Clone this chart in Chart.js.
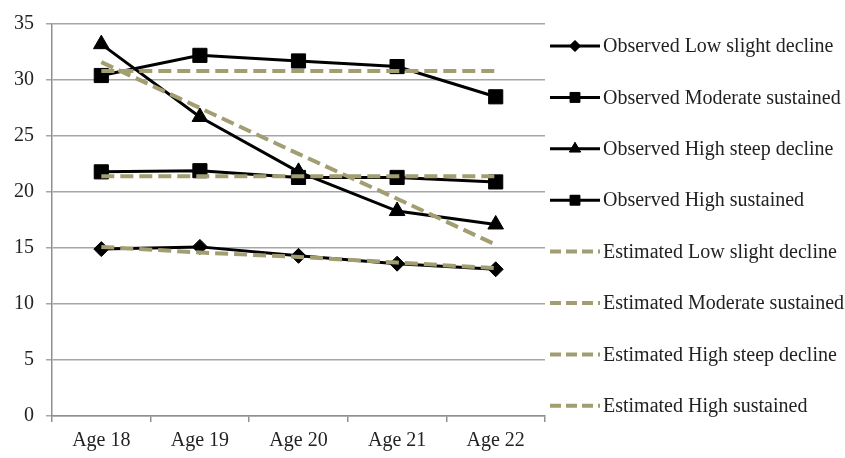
<!DOCTYPE html>
<html><head><meta charset="utf-8">
<script src="https://cdn.jsdelivr.net/npm/chart.js@4/dist/chart.umd.min.js"></script>
<style>html,body{margin:0;padding:0;background:#fff}#wrap{width:845px;height:458px}</style>
</head><body><div id="wrap"><canvas id="c" width="845" height="458"></canvas></div>
<script>
const categories = ['Age 18','Age 19','Age 20','Age 21','Age 22'];
const obsLowSlight = [14.9, 15.1, 14.3, 13.6, 13.1];
const obsModerateSustained = [30.4, 32.2, 31.7, 31.2, 28.5];
const obsHighSteep = [33.2, 26.7, 21.8, 18.3, 17.1];
const obsHighSustained = [21.8, 21.9, 21.3, 21.3, 20.9];
const estLowSlight = [15.1, 14.6, 14.2, 13.7, 13.2];
const estModerateSustained = [30.8, 30.8, 30.8, 30.8, 30.8];
const estHighSteep = [31.6, 27.5, 23.4, 19.4, 15.3];
const estHighSustained = [21.4, 21.4, 21.4, 21.4, 21.4];
const yTicks = [0, 5, 10, 15, 20, 25, 30, 35];

const FONT = "'Liberation Serif', 'Times New Roman', serif";
const DASH = '#a39e72';

function obs(label, data, style, r, lr) {
  return {label, data, borderColor:'#000', backgroundColor:'#000', borderWidth:3,
    pointStyle:style, pointRadius:r, pointHoverRadius:r, pointBorderWidth:1, tension:0, order:1, legendRadius:lr};
}
function est(label, data) {
  return {label, data, borderColor:DASH, backgroundColor:DASH, borderWidth:4,
    borderDash:[13,6], pointRadius:0, pointHoverRadius:0, tension:0, order:0};
}

const datasets = [
  obs('Observed Low slight decline', obsLowSlight, 'rectRot', 7.5, 5.5),
  obs('Observed Moderate sustained', obsModerateSustained, 'rect', 10, 7),
  obs('Observed High steep decline', obsHighSteep, 'triangle', 9, 6.5),
  obs('Observed High sustained', obsHighSustained, 'rect', 10, 7),
  est('Estimated Low slight decline', estLowSlight),
  est('Estimated Moderate sustained', estModerateSustained),
  est('Estimated High steep decline', estHighSteep),
  est('Estimated High sustained', estHighSustained)
];

const legendPlugin = {
  id:'customLegend',
  afterDraw(chart) {
    const ctx = chart.ctx;
    const x0 = 550, len = 50, y0 = 46, step = 51.4;
    ctx.save();
    chart.data.datasets.forEach((ds, i) => {
      const y = y0 + i*step;
      ctx.beginPath();
      ctx.strokeStyle = ds.borderColor;
      ctx.lineWidth = ds.borderWidth;
      ctx.setLineDash(ds.borderDash ? [11,5] : []);
      ctx.moveTo(x0, y); ctx.lineTo(x0+len, y);
      ctx.stroke();
      ctx.setLineDash([]);
      if (ds.pointRadius > 0) {
        ctx.fillStyle = '#000'; ctx.strokeStyle = '#000'; ctx.lineWidth = 1;
        Chart.helpers.drawPoint(ctx, {pointStyle: ds.pointStyle, radius: ds.legendRadius, borderWidth:1, rotation:0}, x0+len/2, y);
        ctx.fill();
      }
      ctx.fillStyle = '#222';
      ctx.font = "20px " + FONT;
      ctx.textBaseline = 'middle';
      ctx.textAlign = 'left';
      ctx.fillText(ds.label, x0+len+3, y+1);
    });
    ctx.restore();
  }
};

new Chart(document.getElementById('c'), {
  type:'line',
  data:{labels:categories, datasets},
  plugins:[legendPlugin],
  options:{
    responsive:false, animation:false,
    layout:{padding:{left:0, top:17, right:300, bottom:0}},
    plugins:{legend:{display:false}, tooltip:{enabled:false}},
    scales:{
      x:{
        offset:true,
        grid:{offset:true, drawOnChartArea:false, drawTicks:true, tickLength:6, color:'#909090', lineWidth:1.5},
        border:{display:true, color:'#909090', width:1.5},
        ticks:{color:'#222', font:{family:FONT, size:20}, padding:7},
        afterFit(s){ s.height = 42; }
      },
      y:{
        min:0, max:35,
        afterBuildTicks(s){ s.ticks = yTicks.map(v => ({value:v})); },
        grid:{color:'#a6a6a6', lineWidth:1.5, tickLength:6},
        border:{display:true, color:'#909090', width:1.5},
        ticks:{color:'#222', font:{family:FONT, size:20}, padding:12},
        afterFit(s){ s.width = 52; }
      }
    }
  }
});
</script></body></html>
